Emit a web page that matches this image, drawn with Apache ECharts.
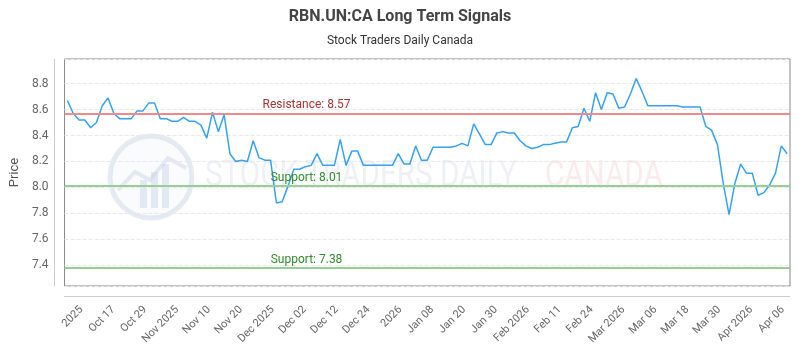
<!DOCTYPE html>
<html>
<head>
<meta charset="utf-8">
<title>RBN.UN:CA Long Term Signals</title>
<script src="https://cdn.jsdelivr.net/npm/echarts@6/dist/echarts.min.js"></script>
<style>
  html, body { margin: 0; padding: 0; background: #fff; }
  #chart { width: 800px; height: 350px; }
</style>
</head>
<body>
<div id="chart"></div>
<script>
// daily closes, oldest first
const prices = [
  8.67, 8.57, 8.52, 8.52, 8.46, 8.50, 8.63, 8.69, 8.57, 8.53,
  8.53, 8.53, 8.59, 8.59, 8.65, 8.65, 8.53, 8.53, 8.51, 8.51,
  8.54, 8.51, 8.51, 8.48, 8.38, 8.58, 8.43, 8.56, 8.26, 8.20,
  8.21, 8.20, 8.36, 8.23, 8.21, 8.21, 7.88, 7.89, 8.01, 8.14,
  8.14, 8.16, 8.17, 8.26, 8.17, 8.17, 8.17, 8.37, 8.17, 8.28,
  8.28, 8.17, 8.17, 8.17, 8.17, 8.17, 8.17, 8.26, 8.18, 8.18,
  8.32, 8.21, 8.21, 8.31, 8.31, 8.31, 8.31, 8.32, 8.34, 8.32,
  8.49, 8.41, 8.33, 8.33, 8.42, 8.43, 8.42, 8.42, 8.36, 8.32,
  8.30, 8.31, 8.33, 8.33, 8.34, 8.35, 8.35, 8.46, 8.47, 8.61,
  8.51, 8.73, 8.60, 8.73, 8.72, 8.61, 8.62, 8.72, 8.84, 8.74,
  8.63, 8.63, 8.63, 8.63, 8.63, 8.63, 8.62, 8.62, 8.62, 8.62,
  8.47, 8.44, 8.33, 8.03, 7.79, 8.03, 8.18, 8.11, 8.11, 7.94,
  7.96, 8.02, 8.11, 8.32, 8.26
];

const tickLabels = [
  '2025', 'Oct 17', 'Oct 29', 'Nov 2025', 'Nov 10', 'Nov 20', 'Dec 2025',
  'Dec 02', 'Dec 12', 'Dec 24', '2026', 'Jan 08', 'Jan 20', 'Jan 30',
  'Feb 2026', 'Feb 11', 'Feb 24', 'Mar 2026', 'Mar 06', 'Mar 18', 'Mar 30',
  'Apr 2026', 'Apr 06'
];

const resistance = 8.57;
const supports = [8.01, 7.38];

const chart = echarts.init(document.getElementById('chart'));

const font = 'Roboto, "Noto Sans", sans-serif';
const axisGray = '#cccccc';
const markBlue = 'rgba(200,210,228,0.45)';

// faint logo + wordmark behind the plot
const watermark = [
  {
    type: 'circle',
    shape: { cx: 151, cy: 177, r: 41 },
    style: { fill: 'rgba(238,241,248,0.3)', stroke: markBlue, lineWidth: 5 },
    silent: true, z: 0
  },
  {
    type: 'polyline',
    shape: { points: [[118, 190], [135, 172], [150, 180], [168, 158], [186, 168]] },
    style: { stroke: markBlue, lineWidth: 4, fill: null },
    silent: true, z: 0
  },
  { type: 'rect', shape: { x: 140, y: 180, width: 7, height: 28 }, style: { fill: markBlue }, silent: true, z: 0 },
  { type: 'rect', shape: { x: 151, y: 172, width: 7, height: 36 }, style: { fill: markBlue }, silent: true, z: 0 },
  { type: 'rect', shape: { x: 162, y: 164, width: 7, height: 44 }, style: { fill: markBlue }, silent: true, z: 0 },
  {
    type: 'text', x: 205, y: 177, scaleX: 0.8,
    style: { text: 'STOCK TRADERS DAILY', font: '37px ' + font, fill: 'rgba(205,212,228,0.35)', verticalAlign: 'middle' },
    silent: true, z: 0
  },
  {
    type: 'text', x: 545, y: 177, scaleX: 0.8,
    style: { text: 'CANADA', font: '37px ' + font, fill: 'rgba(245,175,175,0.25)', verticalAlign: 'middle' },
    silent: true, z: 0
  }
];

function levelLine(value, name, lineColor, textColor) {
  return {
    yAxis: value,
    lineStyle: { color: lineColor, width: 2, type: 'solid' },
    label: {
      formatter: name + ': ' + value.toFixed(2),
      position: 'insideStartTop',
      align: 'center',
      distance: [242, 2],
      color: textColor,
      fontSize: 12,
      fontFamily: font
    }
  };
}

const option = {
  animation: false,
  backgroundColor: '#ffffff',
  title: {
    text: 'RBN.UN:CA Long Term Signals',
    subtext: 'Stock Traders Daily Canada',
    left: 'center',
    top: 4,
    itemGap: 10,
    textStyle: { fontFamily: font, fontSize: 16, fontWeight: 'bold', color: '#444' },
    subtextStyle: { fontFamily: font, fontSize: 12, color: '#333' }
  },
  graphic: watermark,
  grid: {
    left: 63, right: 10, top: 59, bottom: 64,
    show: true, borderColor: '#888', borderWidth: 1, backgroundColor: 'transparent'
  },
  xAxis: [
    {
      type: 'category',
      data: prices.map((_, i) => i),
      boundaryGap: true,
      axisLine: { show: false, onZero: false },
      axisTick: { show: false },
      axisLabel: { show: false },
      splitLine: { show: false }
    },
    {
      // date labels along the bottom
      type: 'value',
      position: 'bottom',
      offset: 10,
      min: -0.53,
      max: 22.22,
      axisLine: { show: true, onZero: false, lineStyle: { color: axisGray } },
      axisTick: { show: false },
      splitLine: { show: false },
      axisLabel: {
        customValues: tickLabels.map((_, i) => i),
        formatter: v => tickLabels[Math.round(v)] || '',
        rotate: 45,
        margin: 12,
        color: '#666',
        fontSize: 11,
        fontFamily: font
      }
    }
  ],
  yAxis: {
    type: 'value',
    min: 7.24,
    max: 8.99,
    splitNumber: 8,
    offset: 10,
    name: 'Price',
    nameLocation: 'middle',
    nameGap: 31,
    nameTextStyle: { color: '#555', fontSize: 13, fontFamily: font },
    axisLine: { show: true, onZero: false, lineStyle: { color: axisGray } },
    axisTick: { show: false },
    axisLabel: {
      color: '#666', fontSize: 12, fontFamily: font, margin: 6,
      showMinLabel: false, showMaxLabel: false,
      formatter: v => v.toFixed(1)
    },
    splitLine: { show: true, lineStyle: { color: '#e8e8e8', type: 'dashed' } }
  },
  series: [
    {
      name: 'Price',
      type: 'line',
      xAxisIndex: 0,
      data: prices,
      symbol: 'none',
      lineStyle: { color: '#35a2f0', width: 1.5 },
      itemStyle: { color: '#35a2f0' },
      z: 3,
      markLine: {
        silent: true,
        symbol: ['none', 'none'],
        data: [
          levelLine(resistance, 'Resistance', '#ee8a8a', '#a83232'),
          levelLine(supports[0], 'Support', '#94d094', '#2e8b2e'),
          levelLine(supports[1], 'Support', '#94d094', '#2e8b2e')
        ]
      }
    }
  ]
};

chart.setOption(option);
</script>
</body>
</html>
